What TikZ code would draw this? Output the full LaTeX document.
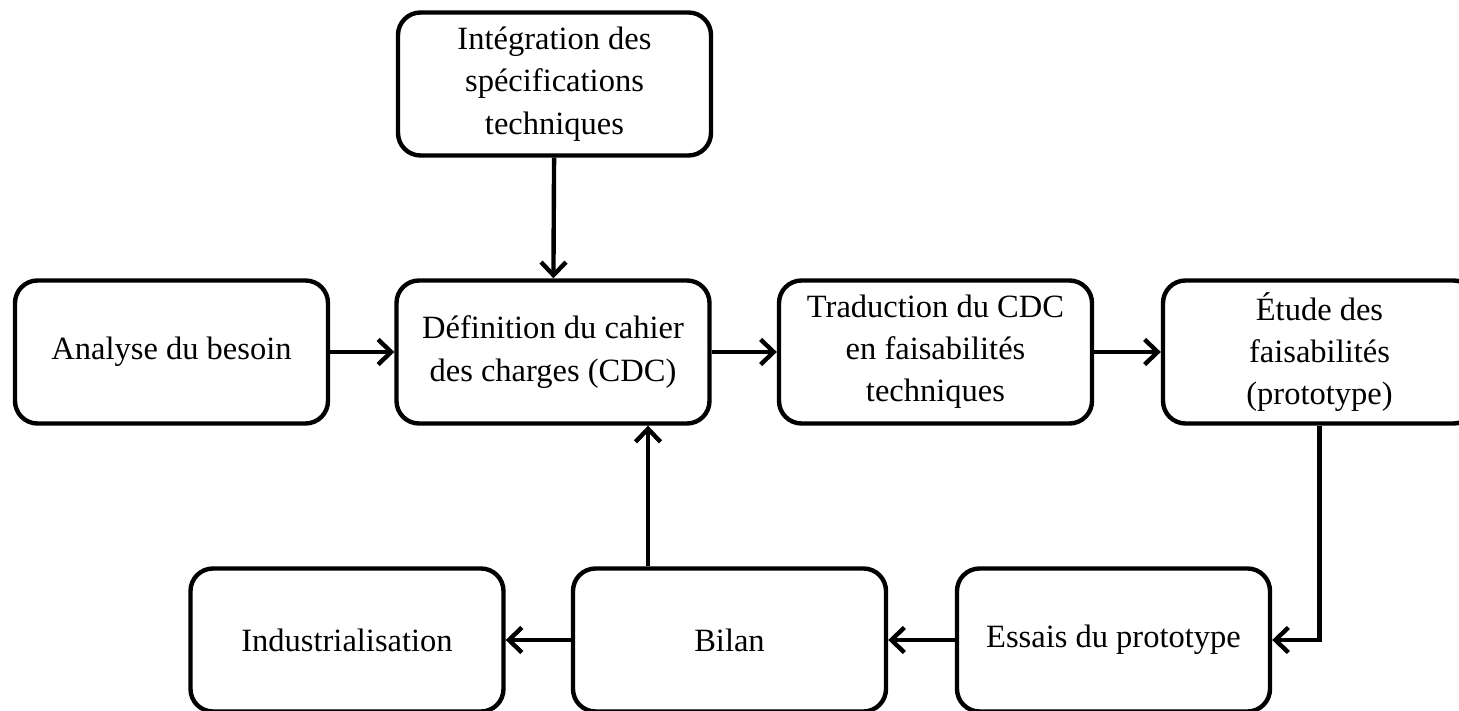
\documentclass[tikz,border=0pt]{standalone}
\usepackage{fontspec}
\setmainfont{Liberation Serif}
\usetikzlibrary{arrows.meta}

\begin{document}
\begin{tikzpicture}[
    box/.style={rectangle, draw, rounded corners=0.45cm, line width=2.5pt, fill=white,
        minimum width=6.26cm, minimum height=2.86cm, align=center,
        font=\fontsize{18.5}{24}\selectfont},
    link/.style={line width=2.5pt, -{Straight Barb[length=2.6mm, width=5mm]}}
]
    \useasboundingbox (0,0) rectangle (29.18,14.2);

    % Draw nodes
    \node[box] (integ) at (11.09,12.52) {Intégration des\\spécifications\\techniques};
    \node[box] (analyse) at (3.43,7.16) {Analyse du besoin};
    \node[box] (definition) at (11.06,7.16) {Définition du cahier\\des charges (CDC)};
    \node[box] (traduction) at (18.71,7.16) {Traduction du CDC\\en faisabilités\\techniques};
    \node[box] (etude) at (26.39,7.16) {Étude des\\faisabilités\\(prototype)};
    \node[box] (indus) at (6.94,1.40) {Industrialisation};
    \node[box] (bilan) at (14.59,1.40) {Bilan};
    \node[box] (essais) at (22.27,1.40) {Essais du prototype};

    % Draw connections
    \draw[link] (integ) -- (definition);
    \draw[link] (analyse) -- (definition);
    \draw[link] (definition) -- (traduction);
    \draw[link] (traduction) -- (etude);
    \draw[link] (etude.south) |- (essais.east);
    \draw[link] (essais) -- (bilan);
    \draw[link] (bilan) -- (indus);
    \draw[link] ([xshift=-1.63cm]bilan.north) -- ([xshift=-1.63cm]bilan.north |- definition.south);
\end{tikzpicture}
\end{document}
